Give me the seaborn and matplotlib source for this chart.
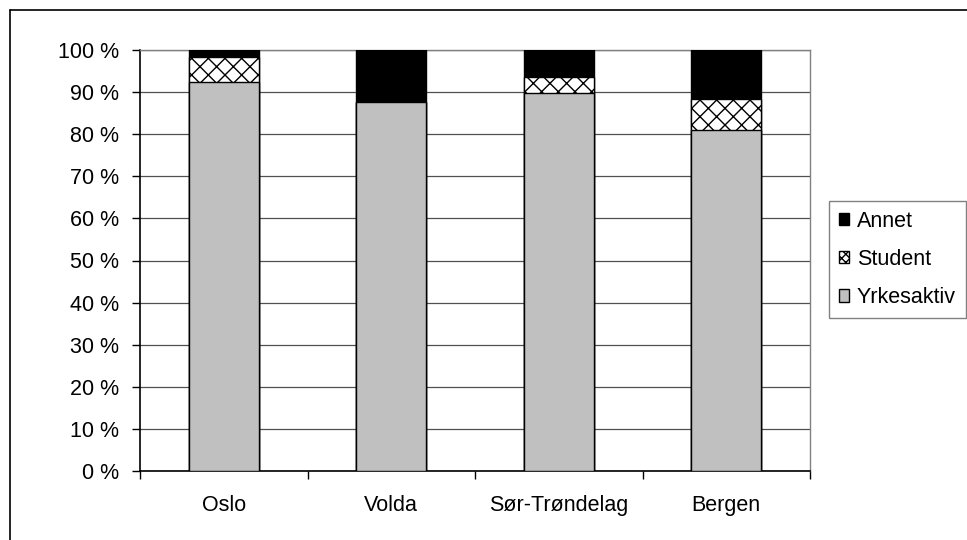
import matplotlib
matplotlib.use("Agg")
import matplotlib.pyplot as plt
import seaborn as sns
import pandas as pd
import numpy as np
from matplotlib.patches import Patch
from matplotlib.lines import Line2D

categories = ["Oslo", "Volda", "Sør-Trøndelag", "Bergen"]
yrkesaktiv = [92.4, 87.6, 89.7, 81.0]
student = [6.0, 0.0, 3.8, 7.3]
annet = [1.6, 12.4, 6.5, 11.7]
series_names = ["Annet", "Student", "Yrkesaktiv"]
y_ticks = [0, 10, 20, 30, 40, 50, 60, 70, 80, 90, 100]

sns.set_theme(style="white")
plt.rcParams["font.family"] = ["Liberation Sans", "DejaVu Sans"]
plt.rcParams["hatch.linewidth"] = 1.0
plt.rcParams["text.color"] = "black"
plt.rcParams["xtick.color"] = "black"
plt.rcParams["ytick.color"] = "black"
plt.rcParams["xtick.labelcolor"] = "black"
plt.rcParams["ytick.labelcolor"] = "black"

df = pd.DataFrame({
    "category": categories,
    "yrk": yrkesaktiv,
    "stud": student,
    "ann": annet,
})
df["top_stud"] = df["yrk"] + df["stud"]
df["top_all"] = df["top_stud"] + df["ann"]

FS = 15.5

fig = plt.figure(figsize=(9.67, 5.4), dpi=100)
ax = fig.add_axes([140 / 967, 69 / 540, 670 / 967, 421 / 540])

w = 0.42
sns.barplot(data=df, x="category", y="top_all", color="black", width=w,
            edgecolor="black", linewidth=1.0, saturation=1, ax=ax, zorder=3)
sns.barplot(data=df, x="category", y="top_stud", color="white", width=w,
            edgecolor="black", linewidth=1.0, saturation=1, hatch="xx", ax=ax, zorder=4)
sns.barplot(data=df, x="category", y="yrk", color="#c0c0c0", width=w,
            edgecolor="black", linewidth=1.0, saturation=1, ax=ax, zorder=5)

ax.set_ylim(0, 100)
ax.set_xlim(-0.5, len(categories) - 0.5)
ax.set_yticks(y_ticks)
ax.set_yticklabels([f"{v} %" for v in y_ticks], fontsize=FS, color="black")
ax.yaxis.grid(True, color="#505050", linewidth=0.9, zorder=0)
ax.set_axisbelow(True)
ax.set_xlabel("")
ax.set_ylabel("")

ax.tick_params(axis="y", which="major", length=6, width=1, color="black",
               direction="out", pad=9, left=True)
ax.set_xticks(range(len(categories)))
ax.set_xticklabels(categories, fontsize=FS, color="black")
ax.tick_params(axis="x", which="major", length=0, pad=17)
ax.set_xticks(np.arange(-0.5, len(categories)), minor=True)
ax.tick_params(axis="x", which="minor", length=6, width=1, color="black",
               direction="out", bottom=True)

for s in ["left", "bottom"]:
    ax.spines[s].set_color("black")
    ax.spines[s].set_linewidth(1.2)
for s in ["top", "right"]:
    ax.spines[s].set_color("#808080")
    ax.spines[s].set_linewidth(1.0)

handles = [
    Patch(facecolor="black", edgecolor="black", label="Annet"),
    Patch(facecolor="white", edgecolor="black", hatch="xxxx", label="Student"),
    Patch(facecolor="#c0c0c0", edgecolor="black", label="Yrkesaktiv"),
]
leg = fig.legend(handles=handles, loc="upper left",
                 bbox_to_anchor=(829 / 967, 1 - 201 / 540),
                 fontsize=FS, frameon=True, fancybox=False,
                 edgecolor="#606060", handlelength=0.5, handleheight=0.5,
                 handletextpad=0.35, labelspacing=0.8, borderpad=0.45,
                 borderaxespad=0)
leg.get_frame().set_linewidth(1.0)
for t in leg.get_texts():
    t.set_color("black")

# outer chart border (left and top visible)
fig.add_artist(Line2D([10 / 967, 10 / 967], [0, 1 - 10 / 540], color="black",
                      linewidth=1.2, transform=fig.transFigure))
fig.add_artist(Line2D([10 / 967, 1], [1 - 10 / 540, 1 - 10 / 540], color="black",
                      linewidth=1.2, transform=fig.transFigure))

fig.savefig("out.png", dpi=100)
